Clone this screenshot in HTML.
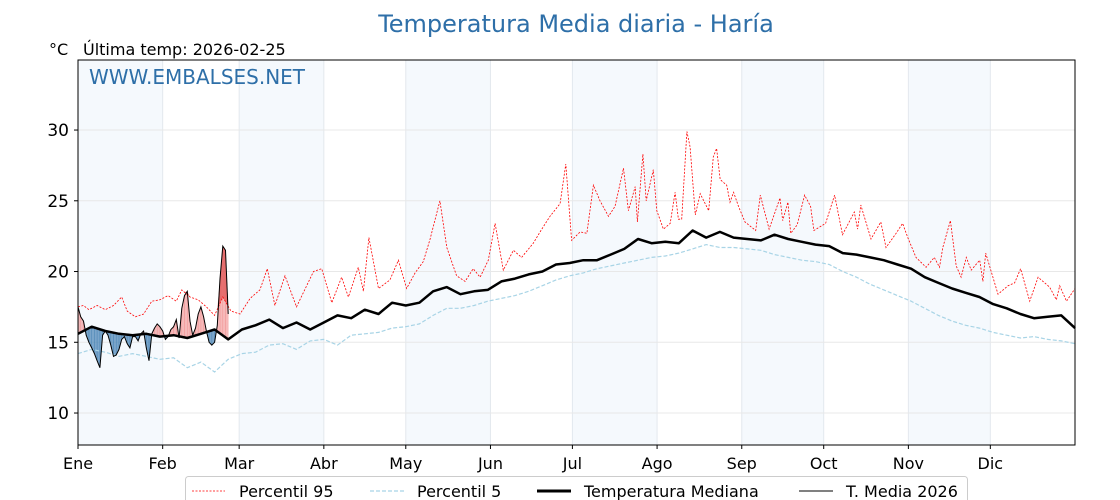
<!DOCTYPE html>
<html><head><meta charset="utf-8">
<style>
body{margin:0;background:#fff;}
svg{display:block;font-family:"DejaVu Sans","Liberation Sans",sans-serif;}
</style></head>
<body>
<svg id="chart" width="1120" height="500" viewBox="0 0 1120 500" xmlns="http://www.w3.org/2000/svg">
<text x="576" y="32" text-anchor="middle" font-size="24" fill="#2e6fa8">Temperatura Media diaria - Haría</text>
<text x="49" y="55" font-size="16" fill="#000">°C</text>
<text x="83" y="55" font-size="16" fill="#000">Última temp: 2026-02-25</text>
<g id="bands"></g>
<g id="grid"></g>
<g id="fills"></g>
<g id="lines"></g>
<rect x="78" y="60" width="997" height="385" fill="none" stroke="#000" stroke-width="1"/>
<text x="89" y="84" font-size="20" fill="#2e6fa8">WWW.EMBALSES.NET</text>
<g id="axes"></g>
<g>
<rect x="185.5" y="476.5" width="782" height="30" rx="3" fill="#fff" stroke="#ccc"/>
<line x1="192" y1="491" x2="225" y2="491" stroke="red" stroke-width="0.8" stroke-dasharray="2,1.5"/>
<text x="239" y="497" font-size="16">Percentil 95</text>
<line x1="370" y1="491" x2="404" y2="491" stroke="#a8d4e6" stroke-width="1.2" stroke-dasharray="4,2"/>
<text x="417" y="497" font-size="16">Percentil 5</text>
<line x1="537" y1="491" x2="571" y2="491" stroke="#000" stroke-width="3"/>
<text x="584" y="497" font-size="16">Temperatura Mediana</text>
<line x1="799" y1="491" x2="833" y2="491" stroke="#000" stroke-width="1"/>
<text x="846" y="497" font-size="16">T. Media 2026</text>
</g>
</svg>
<script>
const monthLabels=["Ene","Feb","Mar","Abr","May","Jun","Jul","Ago","Sep","Oct","Nov","Dic"];
const monthStarts=[0,31,59,90,120,151,181,212,243,273,304,334];
const yTicks=[10,15,20,25,30];
const median=[15.6,16.1,15.8,15.6,15.5,15.6,15.4,15.5,15.3,15.6,15.9,15.2,15.9,16.2,16.6,16.0,16.4,15.9,16.4,16.9,16.7,17.3,17.0,17.8,17.6,17.8,18.6,18.9,18.4,18.6,18.7,19.3,19.5,19.8,20.0,20.5,20.6,20.8,20.8,21.2,21.6,22.3,22.0,22.1,22.0,22.9,22.4,22.8,22.4,22.3,22.2,22.6,22.3,22.1,21.9,21.8,21.3,21.2,21.0,20.8,20.5,20.2,19.6,19.2,18.8,18.5,18.2,17.7,17.4,17.0,16.7,16.8,16.9,16.0];
const p95Days=[0,2,4,7,10,13,16,18,21,24,27,30,33,36,38,41,44,47,50,53,56,59.3,63,66.6,69.3,72.1,75.8,80,86.2,89.2,92.9,96.5,99,102.6,104.5,106.5,110,114.2,117.3,120.3,123.4,126.4,128.9,132.5,135,138.6,141.7,144.7,147.2,150.2,152.7,155.7,159.4,162.4,166.7,169.8,172.8,176.5,178.6,180.7,183.8,186.3,188.7,191.1,194.2,196.6,199.7,201.5,204,204.8,206.8,208,210.6,211.9,214.3,216.8,218.6,219.8,221,222.9,224.1,226,227.8,230.9,232.6,233.8,235.1,237.5,238.7,240,241.8,244.2,248.1,249.8,253,257,258,259.9,260.9,263.3,266,268.2,269.4,273.7,277,279.9,284.2,285.4,286.6,290.3,293.9,295.8,299.5,301.9,303.8,306.8,310.5,313.5,315.4,316.6,319.4,321.5,323.3,325.2,327,330.1,331.3,332.3,336.8,340.5,342.9,345.1,348.4,351.5,355.7,358.2,359.4,361.9,365];
const p95Vals=[17.5,17.6,17.3,17.6,17.3,17.6,18.2,17.2,16.8,17.0,17.9,18.0,18.3,17.9,18.7,18.2,18.0,17.5,16.9,18.2,17.2,17.0,18.1,18.7,20.2,17.6,19.7,17.5,20.0,20.2,17.8,19.6,18.2,20.3,18.6,22.4,18.8,19.4,20.8,18.8,19.9,20.7,22.3,25.0,21.7,19.7,19.3,20.2,19.6,20.8,23.4,20.1,21.5,21.0,22.0,23.0,23.9,24.8,27.6,22.2,22.8,22.7,26.1,25.0,23.9,24.6,27.3,24.3,26.0,23.5,28.3,25.0,27.2,24.3,23.0,23.4,25.6,23.7,23.7,29.9,28.8,24.0,25.5,24.3,28.1,28.7,26.5,26.1,24.9,25.6,24.6,23.5,22.9,25.4,23.0,25.2,23.6,24.9,22.7,23.3,25.4,24.6,22.9,23.4,25.4,22.6,24.2,23.0,24.7,22.3,23.5,21.7,22.7,23.4,22.4,21.0,20.3,21.0,20.3,21.7,23.6,20.4,19.6,21.0,20.1,20.8,19.3,21.3,18.4,19.0,19.2,20.2,17.9,19.6,18.9,18.0,19.0,17.9,18.8];
const p5=[14.2,14.5,14.3,14.0,14.2,14.0,13.8,13.9,13.2,13.6,12.9,13.8,14.2,14.3,14.8,14.9,14.5,15.1,15.2,14.8,15.5,15.6,15.7,16.0,16.1,16.3,16.9,17.4,17.4,17.6,17.9,18.1,18.3,18.6,19.0,19.4,19.7,19.9,20.2,20.4,20.6,20.8,21.0,21.1,21.3,21.6,21.9,21.7,21.7,21.6,21.5,21.2,21.0,20.8,20.7,20.5,20.0,19.6,19.1,18.7,18.3,17.9,17.4,16.9,16.5,16.2,16.0,15.7,15.5,15.3,15.4,15.2,15.1,14.9];
const t2026=[17.5,16.8,16.5,15.5,15.0,14.6,14.2,13.7,13.2,15.5,15.8,15.5,14.8,14.0,14.1,14.5,15.2,15.4,14.9,14.6,15.4,15.4,15.1,15.6,15.8,14.6,13.7,15.6,16.0,16.3,16.1,15.8,15.2,15.4,15.9,16.1,16.6,15.3,17.4,18.3,18.6,16.5,15.5,16.0,17.0,17.5,16.8,15.8,15.0,14.8,15.0,16.2,19.5,21.8,21.5,17.0];

const NS="http://www.w3.org/2000/svg";
const X0=78,X1=1075,Y0=60,Y1=445,DMIN=7.74,DMAX=34.95;
const xs=d=>X0+d*(X1-X0)/365;
const ys=v=>Y1-(v-DMIN)*(Y1-Y0)/(DMAX-DMIN);
const dayOf=(i,n)=>i*365/(n-1);
function mk(tag,attrs,parent){const e=document.createElementNS(NS,tag);for(const k in attrs)e.setAttribute(k,attrs[k]);parent.appendChild(e);return e;}
function interp(arr,d){const n=arr.length;const f=d*(n-1)/365;const i=Math.min(Math.floor(f),n-2);const t=f-i;return arr[i]*(1-t)+arr[i+1]*t;}
function interpXY(dx,vy,d){for(let i=0;i<dx.length-1;i++){if(d<=dx[i+1]){const t=(d-dx[i])/(dx[i+1]-dx[i]);return vy[i]*(1-t)+vy[i+1]*t;}}return vy[vy.length-1];}

const bands=document.getElementById('bands');
for(let m=0;m<12;m+=2){
  const end=m+1<12?monthStarts[m+1]:365;
  const r=mk('rect',{x:xs(monthStarts[m]),y:Y0,width:xs(end)-xs(monthStarts[m]),height:Y1-Y0,fill:'#f5f9fd'},bands);
  
  
}
const grid=document.getElementById('grid');
monthStarts.forEach(d=>{const l=mk('line',{x1:xs(d),x2:xs(d),y1:Y0,y2:Y1,stroke:'#e3e8ee','stroke-width':1},grid);
  
  });
yTicks.forEach(v=>{const l=mk('line',{x1:X0,x2:X1,y1:ys(v),y2:ys(v),stroke:'#e8e8e8','stroke-width':1},grid);
  
  });

const fills=document.getElementById('fills');
for(let d=0;d<t2026.length-1;d++){
  const a0=t2026[d]-interp(median,d), a1=t2026[d+1]-interp(median,d+1);
  let segs=[];
  if(a0*a1<0){const c=d+a0/(a0-a1);segs=[[d,c,a0],[c,d+1,a1]];}else segs=[[d,d+1,a0+a1]];
  segs.forEach(([s,e,sign])=>{
    const tv=q=>t2026[d]+(t2026[d+1]-t2026[d])*(q-d);
    const pts=[[xs(s),ys(tv(s))],[xs(e),ys(tv(e))],[xs(e),ys(interp(median,e))],[xs(s),ys(interp(median,s))]];
    const col=sign>0?'rgba(240,140,140,0.6)':'rgba(70,130,180,0.7)';
    const p=mk('polygon',{points:pts.map(p=>p.join(',')).join(' '),fill:col,stroke:col,'stroke-width':0.5},fills);
    
    
  });
  const q0=interpXY(p95Days,p95Vals,d), q1=interpXY(p95Days,p95Vals,d+1);
  if(t2026[d]>q0||t2026[d+1]>q1){
    const pts=[[xs(d),ys(Math.max(t2026[d],q0))],[xs(d+1),ys(Math.max(t2026[d+1],q1))],[xs(d+1),ys(q1)],[xs(d),ys(q0)]];
    const p=mk('polygon',{points:pts.map(p=>p.join(',')).join(' '),fill:'rgba(220,60,60,0.6)'},fills);
    
    
  }
}

const lines=document.getElementById('lines');
function path(arr,daily){return arr.map((v,i)=>(i?'L':'M')+xs(daily?i:dayOf(i,arr.length)).toFixed(1)+','+ys(v).toFixed(1)).join('');}
function pathXY(dx,vy){return vy.map((v,i)=>(i?'L':'M')+xs(dx[i]).toFixed(1)+','+ys(v).toFixed(1)).join('');}
let e;
e=mk('path',{d:path(p5,false),fill:'none',stroke:'#a8d4e6','stroke-width':1.2,'stroke-dasharray':'4,2'},lines);


e=mk('path',{d:pathXY(p95Days,p95Vals),fill:'none',stroke:'red','stroke-width':0.8,'stroke-dasharray':'2,1.5'},lines);


e=mk('path',{d:path(median,false),fill:'none',stroke:'#000','stroke-width':2.5,'stroke-linejoin':'round'},lines);


e=mk('path',{d:path(t2026,true),fill:'none',stroke:'#000','stroke-width':1},lines);



const axes=document.getElementById('axes');
yTicks.forEach(v=>{
  const t=mk('line',{x1:X0-4,x2:X0,y1:ys(v),y2:ys(v),stroke:'#000'},axes);
  
  
  const l=mk('text',{x:X0-9,y:ys(v)+6,'text-anchor':'end','font-size':17},axes);
  l.textContent=v;
  
  
});
monthStarts.forEach((d,i)=>{
  const t=mk('line',{x1:xs(d),x2:xs(d),y1:Y1,y2:Y1+4,stroke:'#000'},axes);
  
  
  const l=mk('text',{x:xs(d),y:Y1+24,'text-anchor':'middle','font-size':16},axes);
  l.textContent=monthLabels[i];
  
  
});
</script>
</body></html>
